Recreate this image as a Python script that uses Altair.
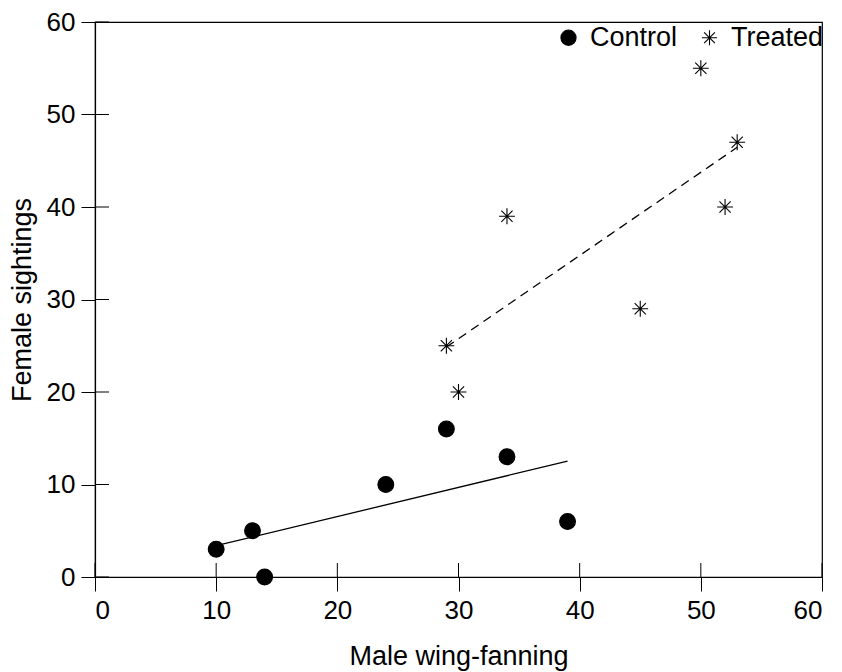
import altair as alt
import pandas as pd

# ---- data ----
groups = ["Control", "Treated"]
control_x = [10, 13, 14, 24, 29, 34, 39]
control_y = [3, 5, 0, 10, 16, 13, 6]
treated_x = [29, 30, 34, 45, 50, 52, 53]
treated_y = [25, 20, 39, 29, 55, 40, 47]
x_ticks = [0, 10, 20, 30, 40, 50, 60]
y_ticks = [0, 10, 20, 30, 40, 50, 60]

df = pd.DataFrame({
    "x": control_x + treated_x,
    "y": control_y + treated_y,
    "group": [groups[0]] * len(control_x) + [groups[1]] * len(treated_x),
})
xt_df = pd.DataFrame({"x": x_ticks})
yt_df = pd.DataFrame({"y": y_ticks})

W, H = 727, 555
FONT = "Liberation Sans"
TICK = 14
ASTER = "M-1,0L1,0M0,-1L0,1M-0.71,-0.71L0.71,0.71M-0.71,0.71L0.71,-0.71"

xs = alt.Scale(domain=[0, 60], nice=False, zero=False)
ys = alt.Scale(domain=[0, 60], nice=False, zero=False)

x_axis = alt.Axis(values=x_ticks, title="Male wing-fanning", grid=False,
                  tickSize=TICK, labelPadding=6, titlePadding=20)
y_axis = alt.Axis(values=y_ticks, title="Female sightings", grid=False,
                  tickSize=TICK, labelPadding=6, titlePadding=10)

leg = alt.Legend(title=None, orient="none", legendX=460, legendY=2,
                 direction="horizontal", labelFontSize=27, labelFont=FONT,
                 labelColor="black", symbolSize=230, symbolStrokeWidth=1.1,
                 columnPadding=18, labelOffset=8)

points = alt.Chart(df).mark_point(size=250, strokeWidth=1.1, opacity=1).encode(
    x=alt.X("x:Q", scale=xs, axis=x_axis),
    y=alt.Y("y:Q", scale=ys, axis=y_axis),
    shape=alt.Shape("group:N", scale=alt.Scale(domain=groups, range=["circle", ASTER]), legend=leg),
    fill=alt.Fill("group:N", scale=alt.Scale(domain=groups, range=["black", "transparent"]), legend=leg),
    stroke=alt.Stroke("group:N", scale=alt.Scale(domain=groups, range=["black", "black"]), legend=leg),
)

ctrl_line = alt.Chart(df).transform_filter(
    alt.datum.group == "Control"
).transform_regression("x", "y").mark_line(color="black", strokeWidth=1.3).encode(
    x=alt.X("x:Q", scale=xs), y=alt.Y("y:Q", scale=ys)
)

treat_line = alt.Chart(df).transform_filter(
    alt.datum.group == "Treated"
).transform_regression("x", "y").mark_line(color="black", strokeWidth=1.3, strokeDash=[9, 6]).encode(
    x=alt.X("x:Q", scale=xs), y=alt.Y("y:Q", scale=ys)
)

x_in = alt.Chart(xt_df).mark_rule(color="black", strokeWidth=1).encode(
    x=alt.X("x:Q", scale=xs), y=alt.value(H - TICK), y2=alt.value(H)
)
y_in = alt.Chart(yt_df).mark_rule(color="black", strokeWidth=1).encode(
    y=alt.Y("y:Q", scale=ys), x=alt.value(0), x2=alt.value(TICK)
)

chart = alt.layer(x_in, y_in, ctrl_line, treat_line, points).properties(
    width=W, height=H,
    autosize=alt.AutoSizeParams(type="none"),
    padding={"left": 87, "top": 14, "right": 12, "bottom": 95},
).configure_view(
    stroke="black", strokeWidth=1.2
).configure_axis(
    labelFont=FONT, titleFont=FONT, labelFontSize=26, titleFontSize=27,
    titleFontWeight="normal", labelColor="black", titleColor="black",
    domainColor="black", tickColor="black", domainWidth=1.2, tickWidth=1,
)

chart.save("out.html", embed_options={"renderer": "svg", "actions": False})
